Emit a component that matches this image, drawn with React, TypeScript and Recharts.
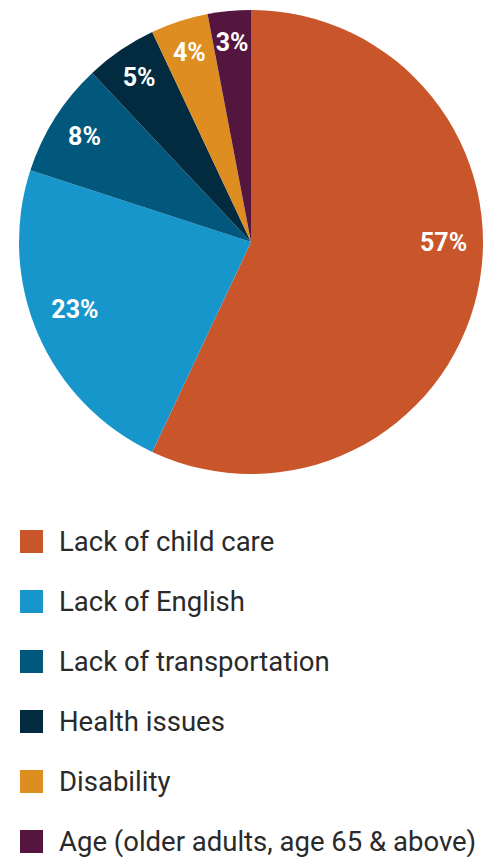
import { PieChart, Pie, Cell, Legend } from 'recharts';

const categories = [
  'Lack of child care',
  'Lack of English',
  'Lack of transportation',
  'Health issues',
  'Disability',
  'Age (older adults, age 65 & above)',
];
const shares = [57, 23, 8, 5, 4, 3];
const colors = ['#C9562A', '#1796CC', '#02587C', '#032B40', '#DE8E21', '#54163E'];

const data = categories.map((name, i) => ({ name, value: shares[i] }));

const RAD = Math.PI / 180;

// labels sit near the rim (wider slices a bit further in); the big slice gets its label pulled to the right edge
const renderLabel = (props: any) => {
  const { cx, cy, midAngle, outerRadius, percent, value } = props;
  const big = percent > 0.5;
  const angle = big ? 0 : midAngle - (percent > 0.15 ? 2.5 : 0);
  const r = outerRadius * (big ? 0.83 : 0.87 - 0.25 * percent);
  const x = cx + r * Math.cos(-angle * RAD);
  const y = cy + r * Math.sin(-angle * RAD);
  return (
    <text
      x={x}
      y={y}
      fill="#fff"
      textAnchor="middle"
      dominantBaseline="central"
      style={{ fontFamily: 'Roboto', fontWeight: 700, fontSize: 25 }}
    >
      {`${value}%`}
    </text>
  );
};

const LegendList = () => (
  <div style={{ fontFamily: 'Roboto', fontSize: 27.5, color: '#2a2a2a' }}>
    {categories.map((c, i) => (
      <div key={c} style={{ height: 60, display: 'flex', alignItems: 'center', whiteSpace: 'nowrap' }}>
        <span style={{ width: 23, height: 23, background: colors[i], marginLeft: 20, marginRight: 16, flex: 'none' }} />
        <span>{c}</span>
      </div>
    ))}
  </div>
);

export default function App() {
  return (
    <div style={{ position: 'absolute', left: 0, top: 0, width: 497, height: 857, background: '#fff' }}>
      <PieChart width={497} height={857} margin={{ top: 0, right: 0, bottom: 0, left: 0 }}>
        <Pie
          data={data}
          dataKey="value"
          nameKey="name"
          cx={251}
          cy={242}
          outerRadius={232}
          startAngle={90}
          endAngle={-270}
          stroke="none"
          label={renderLabel}
          labelLine={false}
          isAnimationActive={false}
        >
          {data.map((d, i) => (
            <Cell key={d.name} fill={colors[i]} />
          ))}
        </Pie>
        <Legend
          content={<LegendList />}
          wrapperStyle={{ position: 'absolute', left: 0, top: 511, width: 497 }}
        />
      </PieChart>
    </div>
  );
}
